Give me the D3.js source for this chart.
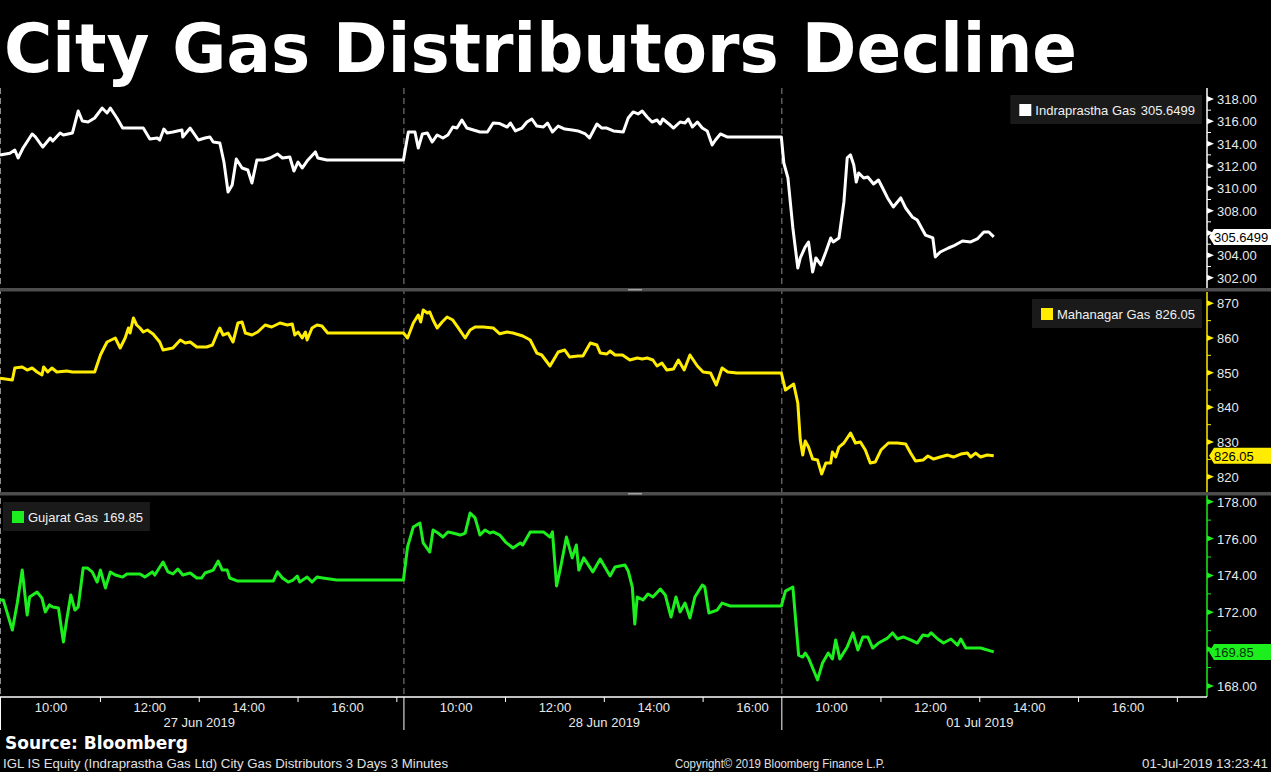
<!DOCTYPE html>
<html>

<head>
    <meta charset='utf-8'>
    <title>City Gas Distributors Decline</title>
    <script type='text/javascript' src='https://cdn.jsdelivr.net/npm/d3@7'></script>
    <style>
        body { margin: 0; background: #000; }
        svg { display: block; }
    </style>
</head>

<body>
    <svg width='1271px' height='772px'></svg>
    <script type='text/javascript'>

        // trading sessions shown on the x axis
        const dayLabels = ['27 Jun 2019', '28 Jun 2019', '01 Jul 2019']
        const dayOpen = ['08:58', '08:56', '08:59']
        const dayClose = ['17:08', '16:35', '17:36']
        const hourLabels = ['10:00', '12:00', '14:00', '16:00']
        const hourTicks = ['11:00', '13:00', '15:00', '17:00']
        const dateLabelAt = '13:00'

        // Indraprastha Gas (3 minute bars)
        const iglJun27 = [['08:58', 312.99], ['09:10', 313.14], ['09:16', 313.43], ['09:20', 312.72], ['09:26', 313.61], ['09:37', 314.87], ['09:41', 314.60], ['09:50', 313.70], ['09:59', 314.51], ['10:02', 314.24], ['10:11', 314.96], ['10:15', 314.78], ['10:26', 314.96], ['10:33', 316.93], ['10:38', 316.03], ['10:45', 315.94], ['10:53', 316.30], ['11:02', 317.19], ['11:08', 316.75], ['11:12', 317.19], ['11:20', 316.30], ['11:27', 315.40], ['11:40', 315.40], ['11:52', 315.40], ['12:00', 314.42], ['12:09', 314.51], ['12:12', 314.33], ['12:17', 315.31], ['12:21', 314.96], ['12:28', 315.05], ['12:39', 315.22], ['12:40', 314.60], ['12:49', 315.40], ['12:59', 314.33], ['13:07', 314.51], ['13:13', 314.60], ['13:17', 314.15], ['13:25', 314.06], ['13:30', 312.36], ['13:35', 309.67], ['13:40', 310.30], ['13:45', 312.63], ['13:52', 311.82], ['13:59', 311.64], ['14:04', 310.48], ['14:10', 312.54], ['14:18', 312.54], ['14:26', 312.72], ['14:35', 313.08], ['14:41', 312.72], ['14:50', 312.81], ['14:55', 311.55], ['15:00', 312.36], ['15:05', 311.82], ['15:12', 312.54], ['15:21', 313.26], ['15:24', 312.72], ['15:35', 312.54], ['17:08', 312.54]]
        const iglJun28 = [['09:02', 315.05], ['09:10', 315.05], ['09:14', 313.61], ['09:19', 314.87], ['09:25', 314.96], ['09:31', 314.15], ['09:37', 314.78], ['09:44', 314.51], ['09:50', 314.78], ['09:56', 315.49], ['10:01', 315.40], ['10:07', 316.12], ['10:13', 315.40], ['10:21', 315.22], ['10:29', 315.05], ['10:38', 315.05], ['10:45', 315.85], ['10:53', 315.80], ['11:02', 315.49], ['11:06', 315.85], ['11:12', 315.14], ['11:20', 315.40], ['11:26', 315.94], ['11:32', 316.21], ['11:38', 315.58], ['11:46', 315.49], ['11:51', 315.85], ['11:57', 315.05], ['12:04', 315.58], ['12:12', 315.31], ['12:21', 315.22], ['12:28', 315.14], ['12:37', 314.87], ['12:42', 314.51], ['12:51', 315.76], ['12:57', 315.40], ['13:03', 315.40], ['13:11', 315.14], ['13:23', 315.05], ['13:29', 316.30], ['13:35', 316.84], ['13:41', 316.66], ['13:46', 316.93], ['13:52', 316.39], ['13:58', 315.94], ['14:04', 316.12], ['14:08', 315.76], ['14:11', 316.21], ['14:20', 315.67], ['14:24', 315.40], ['14:32', 315.94], ['14:38', 315.85], ['14:42', 316.21], ['14:47', 315.49], ['14:53', 315.94], ['14:59', 315.40], ['15:05', 315.14], ['15:11', 313.88], ['15:15', 314.33], ['15:21', 314.87], ['15:29', 314.60], ['16:35', 314.60]]
        const iglJul01 = [['09:02', 312.27], ['09:07', 310.93], ['09:13', 306.45], ['09:19', 302.87], ['09:22', 303.77], ['09:28', 304.75], ['09:32', 305.20], ['09:37', 302.51], ['09:41', 303.77], ['09:47', 303.14], ['09:53', 304.30], ['09:59', 305.56], ['10:02', 305.20], ['10:09', 305.56], ['10:15', 308.78], ['10:19', 312.72], ['10:23', 312.99], ['10:27', 312.09], ['10:30', 310.57], ['10:33', 311.38], ['10:39', 310.93], ['10:44', 311.02], ['10:51', 310.39], ['10:57', 310.75], ['11:02', 310.03], ['11:08', 309.14], ['11:15', 308.33], ['11:24', 309.14], ['11:30', 308.24], ['11:38', 307.44], ['11:44', 307.17], ['11:54', 305.82], ['12:03', 305.56], ['12:06', 303.86], ['12:12', 304.30], ['12:22', 304.66], ['12:28', 304.84], ['12:39', 305.29], ['12:49', 305.20], ['12:57', 305.47], ['13:05', 306.09], ['13:11', 306.09], ['13:17', 305.65]]

        // Mahanagar Gas
        const mglJun27 = [['08:58', 848.37], ['09:13', 847.88], ['09:16', 851.34], ['09:25', 851.63], ['09:31', 850.76], ['09:37', 851.34], ['09:43', 850.18], ['09:49', 849.32], ['09:51', 851.63], ['09:56', 850.18], ['10:01', 851.34], ['10:07', 850.18], ['10:19', 850.47], ['10:26', 850.18], ['10:53', 850.18], ['11:00', 855.09], ['11:03', 856.53], ['11:08', 858.84], ['11:18', 859.99], ['11:24', 857.11], ['11:30', 859.99], ['11:34', 862.88], ['11:36', 861.43], ['11:40', 865.76], ['11:44', 863.74], ['11:48', 862.88], ['11:52', 861.72], ['11:57', 862.30], ['12:04', 861.15], ['12:12', 858.84], ['12:16', 856.53], ['12:28', 857.11], ['12:37', 859.41], ['12:43', 858.55], ['12:49', 858.84], ['12:57', 857.40], ['13:09', 857.40], ['13:16', 857.97], ['13:22', 861.43], ['13:25', 862.88], ['13:29', 860.86], ['13:35', 861.43], ['13:41', 858.84], ['13:47', 864.32], ['13:52', 864.61], ['13:56', 861.43], ['14:04', 860.86], ['14:11', 861.72], ['14:20', 863.74], ['14:28', 863.16], ['14:38', 864.32], ['14:47', 863.74], ['14:53', 864.03], ['14:56', 860.86], ['15:00', 861.72], ['15:05', 859.99], ['15:09', 861.72], ['15:11', 859.41], ['15:17', 862.88], ['15:23', 863.74], ['15:29', 863.45], ['15:36', 861.43], ['17:08', 861.43]]
        const mglJun28 = [['09:01', 859.99], ['09:08', 864.32], ['09:14', 866.63], ['09:17', 864.61], ['09:20', 868.07], ['09:25', 867.20], ['09:28', 867.49], ['09:32', 865.18], ['09:37', 862.88], ['09:43', 864.61], ['09:49', 866.05], ['09:56', 865.18], ['10:02', 863.16], ['10:11', 859.99], ['10:17', 862.30], ['10:23', 863.16], ['10:33', 863.16], ['10:45', 862.88], ['10:53', 861.20], ['11:02', 861.72], ['11:09', 861.43], ['11:21', 860.57], ['11:30', 859.41], ['11:38', 855.66], ['11:44', 855.09], ['11:54', 851.92], ['12:04', 855.95], ['12:12', 856.53], ['12:18', 854.51], ['12:28', 854.80], ['12:34', 854.80], ['12:43', 858.55], ['12:51', 857.97], ['12:55', 855.66], ['13:03', 855.38], ['13:07', 856.24], ['13:13', 855.09], ['13:22', 855.09], ['13:31', 853.65], ['13:40', 854.22], ['13:46', 853.93], ['13:52', 854.22], ['13:59', 853.65], ['14:04', 851.92], ['14:10', 852.78], ['14:16', 850.76], ['14:24', 851.05], ['14:30', 853.65], ['14:37', 850.76], ['14:44', 855.09], ['14:53', 851.92], ['15:00', 850.18], ['15:09', 849.90], ['15:16', 846.43], ['15:23', 851.34], ['15:30', 850.18], ['15:41', 849.90], ['16:35', 849.90]]
        const mglJul01 = [['09:04', 844.99], ['09:14', 846.72], ['09:19', 841.24], ['09:22', 830.57], ['09:25', 826.24], ['09:28', 830.28], ['09:32', 828.55], ['09:37', 825.09], ['09:43', 824.80], ['09:48', 820.76], ['09:53', 823.94], ['09:59', 823.94], ['10:01', 827.11], ['10:05', 825.67], ['10:09', 828.55], ['10:15', 829.71], ['10:23', 832.59], ['10:29', 829.71], ['10:35', 829.99], ['10:41', 827.69], ['10:47', 823.94], ['10:53', 824.23], ['11:00', 827.69], ['11:09', 829.71], ['11:20', 829.71], ['11:30', 829.42], ['11:36', 826.82], ['11:42', 824.51], ['11:51', 824.80], ['11:57', 825.96], ['12:04', 825.09], ['12:12', 825.67], ['12:21', 826.24], ['12:28', 825.67], ['12:37', 826.53], ['12:45', 826.82], ['12:49', 825.67], ['12:55', 826.82], ['13:01', 825.67], ['13:09', 826.24], ['13:17', 826.05]]

        // Gujarat Gas
        const gujJun27 = [['08:58', 172.67], ['09:02', 172.67], ['09:13', 171.04], ['09:19', 172.50], ['09:25', 174.29], ['09:31', 171.85], ['09:34', 172.83], ['09:43', 173.10], ['09:49', 172.77], ['09:53', 172.02], ['09:58', 172.40], ['10:02', 172.29], ['10:09', 172.23], ['10:15', 170.39], ['10:19', 171.58], ['10:24', 172.94], ['10:29', 172.12], ['10:33', 172.29], ['10:39', 174.40], ['10:44', 174.40], ['10:50', 174.19], ['10:56', 173.64], ['11:00', 174.29], ['11:06', 173.32], ['11:12', 174.19], ['11:18', 174.02], ['11:27', 173.91], ['11:32', 174.08], ['11:48', 174.08], ['11:54', 173.91], ['12:03', 174.19], ['12:06', 174.02], ['12:16', 174.73], ['12:22', 174.19], ['12:28', 174.08], ['12:34', 174.35], ['12:40', 174.02], ['12:49', 174.13], ['12:57', 173.86], ['13:03', 173.86], ['13:07', 174.13], ['13:17', 174.29], ['13:23', 174.78], ['13:28', 174.29], ['13:34', 174.29], ['13:37', 173.86], ['13:46', 173.70], ['13:56', 173.70], ['14:30', 173.70], ['14:35', 174.19], ['14:41', 173.86], ['14:48', 173.64], ['14:54', 173.75], ['14:59', 173.97], ['15:02', 173.64], ['15:11', 173.91], ['15:17', 173.64], ['15:23', 173.91], ['15:30', 173.86], ['15:47', 173.75], ['17:08', 173.75]]
        const gujJun28 = [['09:01', 175.54], ['09:08', 176.63], ['09:16', 176.84], ['09:20', 175.76], ['09:28', 175.27], ['09:32', 176.46], ['09:38', 176.30], ['09:44', 176.08], ['09:50', 176.36], ['09:56', 176.30], ['10:05', 176.19], ['10:11', 176.30], ['10:17', 177.39], ['10:23', 177.12], ['10:29', 176.19], ['10:35', 176.46], ['10:41', 176.30], ['10:45', 176.36], ['10:53', 176.19], ['11:00', 175.81], ['11:09', 175.49], ['11:18', 175.76], ['11:21', 175.65], ['11:30', 176.36], ['11:46', 176.36], ['11:54', 176.08], ['11:57', 176.36], ['12:02', 173.43], ['12:07', 174.46], ['12:14', 176.08], ['12:21', 174.95], ['12:26', 175.65], ['12:29', 174.29], ['12:35', 174.95], ['12:46', 174.19], ['12:55', 174.89], ['13:07', 173.97], ['13:13', 174.46], ['13:25', 174.57], ['13:29', 174.24], ['13:34', 173.37], ['13:37', 171.36], ['13:40', 172.83], ['13:47', 172.67], ['13:53', 172.99], ['13:59', 172.83], ['14:08', 173.26], ['14:14', 172.94], ['14:21', 171.74], ['14:27', 172.83], ['14:32', 172.02], ['14:38', 172.50], ['14:44', 171.69], ['14:50', 172.83], ['14:59', 173.48], ['15:02', 173.37], ['15:07', 171.96], ['15:17', 172.12], ['15:23', 172.50], ['15:33', 172.34], ['16:35', 172.34]]
        const gujJul01 = [['09:04', 173.15], ['09:13', 173.37], ['09:20', 169.68], ['09:25', 169.57], ['09:28', 169.79], ['09:32', 169.52], ['09:43', 168.33], ['09:49', 169.25], ['09:56', 169.79], ['10:01', 169.47], ['10:05', 170.50], ['10:10', 169.47], ['10:19', 170.12], ['10:26', 170.88], ['10:32', 169.95], ['10:38', 170.66], ['10:44', 170.66], ['10:50', 170.06], ['10:57', 170.33], ['11:08', 170.60], ['11:14', 170.88], ['11:20', 170.55], ['11:27', 170.66], ['11:36', 170.50], ['11:44', 170.33], ['11:51', 170.77], ['11:57', 170.71], ['12:01', 170.88], ['12:09', 170.55], ['12:16', 170.33], ['12:25', 170.55], ['12:33', 170.22], ['12:37', 170.55], ['12:43', 170.06], ['13:01', 170.06], ['13:17', 169.85]]

        const seriesNames = ['Indraprastha Gas', 'Mahanagar Gas', 'Gujarat Gas']
        const lastLabels = ['305.6499', '826.05', '169.85']

        const svg = d3.select('svg')
        const plotRight = 1207
        const axisY = 697
        const font = "'Liberation Sans', Arial, sans-serif"
        const boldFont = "'DejaVu Sans', Verdana, sans-serif"

        svg.append('rect').attr('width', 1271).attr('height', 772).attr('fill', '#000')

        // x: sessions laid end to end, one continuous minute scale
        const toMin = t => { const p = t.split(':').map(Number); return p[0] * 60 + p[1] }
        const dayLen = dayOpen.map((o, i) => toMin(dayClose[i]) - toMin(o))
        const dayStart = dayLen.map((_, i) => d3.sum(dayLen.slice(0, i)))
        const x = d3.scaleLinear().domain([0, d3.sum(dayLen)]).range([0, plotRight])
        const xAt = (d, t) => x(dayStart[d] + toMin(t) - toMin(dayOpen[d]))
        const inDay = (d, t) => toMin(t) >= toMin(dayOpen[d]) && toMin(t) <= toMin(dayClose[d])

        const panels = [
            { days: [iglJun27, iglJun28, iglJul01], color: '#ffffff', tagInk: '#000', top: 88, bottom: 288,
              y: d3.scaleLinear().domain([302, 318]).range([277.7, 99]), step: 2, fmt: d3.format('.2f'), legend: 'right' },
            { days: [mglJun27, mglJun28, mglJul01], color: '#ffec00', tagInk: '#000', top: 292, bottom: 492,
              y: d3.scaleLinear().domain([820, 870]).range([476.7, 303.3]), step: 10, fmt: d3.format('d'), legend: 'right' },
            { days: [gujJun27, gujJun28, gujJul01], color: '#1dee1d', tagInk: '#04330a', top: 495, bottom: axisY,
              y: d3.scaleLinear().domain([168, 178]).range([686, 501.7]), step: 2, fmt: d3.format('.2f'), legend: 'left' }
        ]

        // day separators (dashed) through all panels
        svg.selectAll('line.sep')
            .data(dayStart)
            .enter()
            .append('line')
            .attr('x1', d => x(d) + 0.5).attr('x2', d => x(d) + 0.5)
            .attr('y1', 88).attr('y2', axisY)
            .attr('stroke', '#8a8a8a')
            .attr('stroke-width', 1)
            .attr('stroke-dasharray', '6,4')

        panels.forEach((p, i) => {
            const pts = p.days.flatMap((arr, d) => arr.map(r => ({ d: d, t: r[0], v: r[1] })))
            const line = d3.line().x(q => xAt(q.d, q.t)).y(q => p.y(q.v))

            svg.append('path')
                .datum(pts)
                .attr('d', line)
                .attr('fill', 'none')
                .attr('stroke', p.color)
                .attr('stroke-width', 3)
                .attr('stroke-linejoin', 'round')

            // right axis
            svg.append('line')
                .attr('x1', plotRight).attr('x2', plotRight)
                .attr('y1', p.top).attr('y2', p.bottom)
                .attr('stroke', p.color).attr('stroke-width', 1.5)

            const [lo, hi] = p.y.domain()
            const major = d3.range(lo, hi + 1e-6, p.step)
            const minor = d3.range(lo + p.step / 2, hi, p.step)
            const lastDay = p.days[p.days.length - 1]
            const ly = p.y(lastDay[lastDay.length - 1][1])

            svg.selectAll(null)
                .data(major)
                .enter()
                .append('path')
                .attr('d', v => `M${plotRight},${p.y(v) - 3}L${plotRight + 7},${p.y(v)}L${plotRight},${p.y(v) + 3}Z`)
                .attr('fill', p.color)

            svg.selectAll(null)
                .data(minor)
                .enter()
                .append('line')
                .attr('x1', plotRight).attr('x2', plotRight + 4)
                .attr('y1', v => p.y(v)).attr('y2', v => p.y(v))
                .attr('stroke', p.color)

            // labels hidden behind the last value tag are not drawn
            svg.selectAll(null)
                .data(major.filter(v => Math.abs(p.y(v) - ly) > 10))
                .enter()
                .append('text')
                .attr('x', plotRight + 10)
                .attr('y', v => p.y(v))
                .attr('dy', '0.38em')
                .attr('fill', '#e8e8e8')
                .attr('font-family', font)
                .attr('font-size', 13)
                .text(p.fmt)

            // last value tag
            svg.append('path')
                .attr('d', `M${plotRight + 2},${ly}L${plotRight + 7},${ly - 8}L1271,${ly - 8}L1271,${ly + 8}L${plotRight + 7},${ly + 8}Z`)
                .attr('fill', p.color)
            svg.append('text')
                .attr('x', plotRight + 7)
                .attr('y', ly)
                .attr('dy', '0.38em')
                .attr('fill', p.tagInk)
                .attr('font-family', font)
                .attr('font-size', 13)
                .text(lastLabels[i])

            // legend box
            const lg = svg.append('g')
            const lt = lg.append('text')
                .attr('fill', '#f0f0f0')
                .attr('font-family', font)
                .attr('font-size', 13)
                .attr('dy', '0.38em')
            lt.append('tspan').text(seriesNames[i])
            lt.append('tspan').attr('dx', 5).text(lastLabels[i])
            const tw = lt.node().getComputedTextLength() + 5
            const bw = tw + 32
            const bx = p.legend === 'right' ? 1202 - bw : 3
            const by = p.top + 7
            lg.insert('rect', 'text')
                .attr('x', bx).attr('y', by).attr('width', bw).attr('height', 29)
                .attr('fill', '#1a1a1a')
            lg.append('rect')
                .attr('x', bx + 9).attr('y', by + 9).attr('width', 12).attr('height', 12)
                .attr('fill', p.color)
            lt.attr('x', bx + 25).attr('y', by + 15)
        })

        // panel dividers
        ;[288, 492].forEach(d => {
            svg.append('rect').attr('x', 0).attr('y', d).attr('width', 1271).attr('height', 3.5).attr('fill', '#4d4d4d')
            svg.append('rect').attr('x', 628).attr('y', d + 1).attr('width', 14).attr('height', 1.5).attr('fill', '#a0a0a0')
        })

        // x axis
        svg.append('line')
            .attr('x1', 0).attr('x2', plotRight)
            .attr('y1', axisY).attr('y2', axisY)
            .attr('stroke', '#fff').attr('stroke-width', 1.5)

        const tickRows = dayLabels.flatMap((_, d) => hourTicks.filter(t => inDay(d, t)).map(t => xAt(d, t)))
        svg.selectAll('line.tick')
            .data(tickRows)
            .enter()
            .append('line')
            .attr('x1', d => d).attr('x2', d => d)
            .attr('y1', axisY).attr('y2', axisY + 5)
            .attr('stroke', '#fff')

        const labelRows = dayLabels.flatMap((_, d) => hourLabels.filter(t => inDay(d, t)).map(t => ({ x: xAt(d, t), t: t })))
        svg.selectAll('text.hour')
            .data(labelRows)
            .enter()
            .append('text')
            .attr('x', d => d.x)
            .attr('y', 711.5)
            .attr('text-anchor', 'middle')
            .attr('fill', '#e8e8e8')
            .attr('font-family', font)
            .attr('font-size', 13)
            .text(d => d.t)

        svg.selectAll('text.day')
            .data(dayLabels)
            .enter()
            .append('text')
            .attr('x', (d, i) => xAt(i, dateLabelAt))
            .attr('y', 726.5)
            .attr('text-anchor', 'middle')
            .attr('fill', '#e8e8e8')
            .attr('font-family', font)
            .attr('font-size', 13)
            .text(d => d)

        svg.selectAll('line.daysep')
            .data(dayStart)
            .enter()
            .append('line')
            .attr('x1', d => x(d) + 0.5).attr('x2', d => x(d) + 0.5)
            .attr('y1', axisY).attr('y2', 730)
            .attr('stroke', '#fff')

        // title and footer
        svg.append('text')
            .attr('x', 4).attr('y', 72)
            .attr('fill', '#fff')
            .attr('font-family', boldFont)
            .attr('font-weight', 'bold')
            .attr('font-size', 68)
            .attr('textLength', 1073)
            .attr('lengthAdjust', 'spacingAndGlyphs')
            .text('City Gas Distributors Decline')

        svg.append('text')
            .attr('x', 5).attr('y', 749)
            .attr('fill', '#fff')
            .attr('font-family', boldFont)
            .attr('font-weight', 'bold')
            .attr('font-size', 17)
            .text('Source: Bloomberg')

        const foot = [
            { x: 3, anchor: 'start', size: 13, w: 445, text: 'IGL IS Equity (Indraprastha Gas Ltd) City Gas Distributors 3 Days 3 Minutes' },
            { x: 675, anchor: 'start', size: 12, w: 210, text: 'Copyright\u00a9 2019 Bloomberg Finance L.P.' },
            { x: 1142, anchor: 'start', size: 13, w: 126, text: '01-Jul-2019 13:23:41' }
        ]
        svg.selectAll('text.foot')
            .data(foot)
            .enter()
            .append('text')
            .attr('x', d => d.x)
            .attr('y', 767.5)
            .attr('text-anchor', d => d.anchor)
            .attr('fill', '#e0e0e0')
            .attr('font-family', font)
            .attr('font-size', d => d.size)
            .attr('textLength', d => d.w)
            .attr('lengthAdjust', 'spacingAndGlyphs')
            .text(d => d.text)
    </script>
</body>

</html>
